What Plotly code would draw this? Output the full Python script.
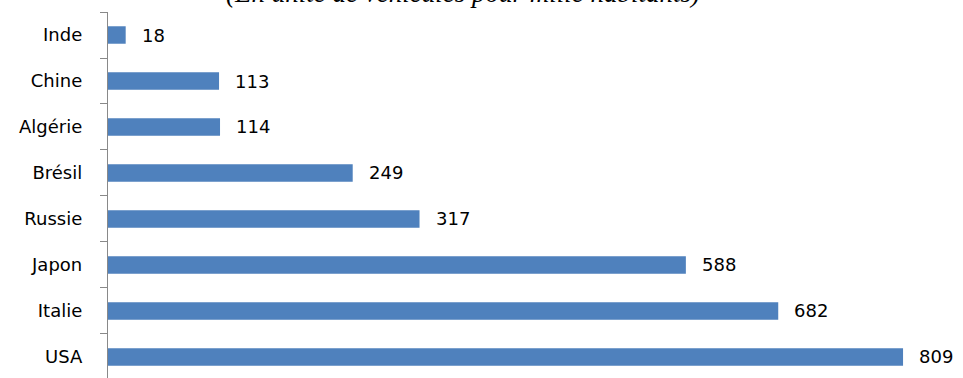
import plotly.graph_objects as go

# Motor vehicles per thousand inhabitants, listed bottom to top
countries = ["USA", "Italie", "Japon", "Russie", "Brésil", "Algérie", "Chine", "Inde"]
vehicles = [809, 682, 588, 317, 249, 114, 113, 18]

title_text = "(En unité de véhicules pour mille habitants)"
bar_color = "#4F81BD"
axis_color = "#898989"
font_family = "DejaVu Sans"

fig = go.Figure(
    go.Bar(
        x=vehicles,
        y=countries,
        orientation="h",
        width=0.38,
        marker=dict(color=bar_color, line=dict(width=0)),
        hoverinfo="x+y",
    )
)

# Value labels placed just past the end of each bar
for c, v in zip(countries, vehicles):
    fig.add_annotation(
        x=v, y=c, xref="x", yref="y",
        text=str(v), showarrow=False,
        xanchor="left", yanchor="middle", xshift=14,
        font=dict(family=font_family, size=18, color="#000000"),
    )

fig.add_annotation(
    x=0.415, y=1, xref="paper", yref="paper",
    text=f"<i>{title_text}</i>", showarrow=False,
    xanchor="center", yanchor="bottom", yshift=2,
    font=dict(family="Liberation Serif", size=27, color="#000000"),
)

fig.update_layout(
    width=963, height=378,
    margin=dict(l=107.5, r=0, t=12, b=0),
    paper_bgcolor="white", plot_bgcolor="white",
    showlegend=False,
    xaxis=dict(
        range=[0, 870], visible=False, showgrid=False, zeroline=False,
    ),
    yaxis=dict(
        categoryorder="array", categoryarray=countries,
        range=[-0.457, 7.5],
        showline=True, linecolor=axis_color, linewidth=1.3,
        ticks="outside", tickson="boundaries", ticklen=7,
        tickcolor=axis_color, tickwidth=1.3,
        ticklabelstandoff=21,
        showgrid=False, zeroline=False,
        tickfont=dict(family=font_family, size=18, color="#000000"),
    ),
)

fig.write_html("out.html")
